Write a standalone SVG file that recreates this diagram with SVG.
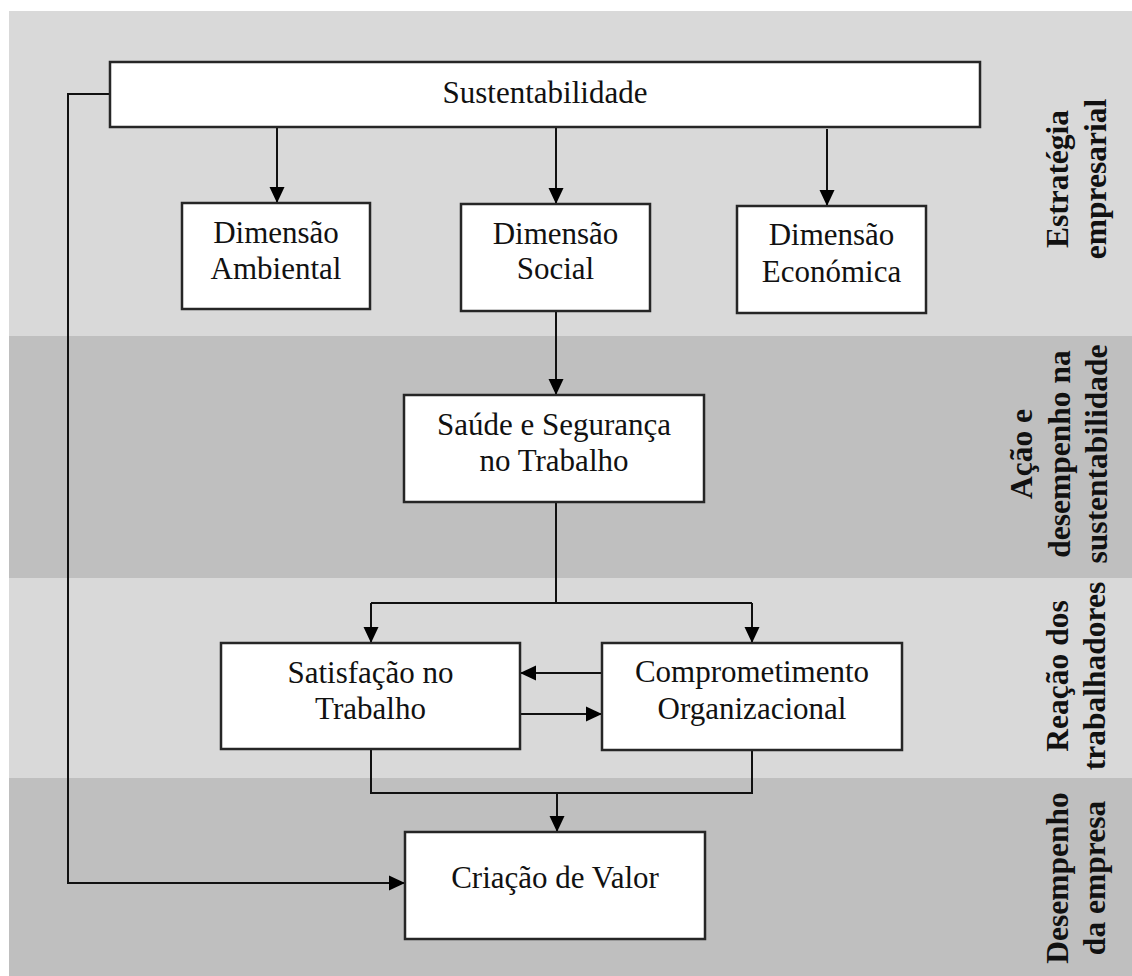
<svg xmlns="http://www.w3.org/2000/svg" width="1132" height="976" viewBox="0 0 1132 976">
  <defs>
    <marker id="arrow" markerUnits="userSpaceOnUse" markerWidth="16" markerHeight="16" refX="16" refY="8" orient="auto">
      <path d="M0,0.5 L16,8 L0,15.5 z" fill="#000"/>
    </marker>
    <style>
      .band-light { fill: #d9d9d9; }
      .band-dark { fill: #bfbfbf; }
      .box { fill: #ffffff; stroke: #262626; stroke-width: 2.5; }
      .label { font-family: "Liberation Serif", "DejaVu Serif", serif; font-size: 31px; fill: #111; text-anchor: middle; }
      .side { font-family: "Liberation Serif", "DejaVu Serif", serif; font-size: 31.5px; font-weight: bold; fill: #111; text-anchor: middle; }
      .wire { fill: none; stroke: #111; stroke-width: 2; }
      .wire-arrow { fill: none; stroke: #111; stroke-width: 2; marker-end: url(#arrow); }
    </style>
  </defs>

  <rect width="1132" height="976" fill="#ffffff"/>

  <!-- horizontal bands -->
  <g id="bands">
    <rect class="band-light" x="9" y="11" width="1123" height="325"/>
    <rect class="band-dark" x="9" y="336" width="1123" height="242"/>
    <rect class="band-light" x="9" y="578" width="1123" height="200"/>
    <rect class="band-dark" x="9" y="778" width="1123" height="198"/>
  </g>

  <!-- band titles -->
  <g id="band-labels">
    <text class="side" transform="translate(1068,179) rotate(-90)"><tspan x="0" y="0">Estratégia</tspan><tspan x="0" y="38">empresarial</tspan></text>
    <text class="side" transform="translate(1032,454) rotate(-90)"><tspan x="0" y="0">Ação e</tspan><tspan x="0" y="38">desempenho na</tspan><tspan x="0" y="75">sustentabilidade</tspan></text>
    <text class="side" transform="translate(1068,676) rotate(-90)"><tspan x="0" y="0">Reação dos</tspan><tspan x="0" y="37">trabalhadores</tspan></text>
    <text class="side" transform="translate(1068,878) rotate(-90)"><tspan x="0" y="0">Desempenho</tspan><tspan x="0" y="37">da empresa</tspan></text>
  </g>

  <!-- connectors -->
  <g id="connectors">
    <path class="wire-arrow" d="M277,127 V203"/>
    <path class="wire-arrow" d="M556,127 V204"/>
    <path class="wire-arrow" d="M827,129 V206"/>
    <path class="wire-arrow" d="M556,311 V395"/>
    <path class="wire" d="M556,502 V603 M371,603 H752"/>
    <path class="wire-arrow" d="M371,603 V643"/>
    <path class="wire-arrow" d="M752,603 V643"/>
    <path class="wire-arrow" d="M602,673 H520"/>
    <path class="wire-arrow" d="M520,714 H602"/>
    <path class="wire" d="M371,749 V793 H752 V750"/>
    <path class="wire-arrow" d="M557,793 V832"/>
    <path class="wire-arrow" d="M110,94 H68 V883 H405"/>
  </g>

  <!-- nodes -->
  <g id="sustentabilidade">
    <rect class="box" x="110" y="62" width="870" height="65"/>
    <text class="label" x="545" y="103">Sustentabilidade</text>
  </g>
  <g id="dimensao-ambiental">
    <rect class="box" x="182" y="203" width="188" height="106"/>
    <text class="label" x="276" y="243">Dimensão</text>
    <text class="label" x="276" y="279">Ambiental</text>
  </g>
  <g id="dimensao-social">
    <rect class="box" x="461" y="204" width="189" height="107"/>
    <text class="label" x="555.5" y="244">Dimensão</text>
    <text class="label" x="555.5" y="279">Social</text>
  </g>
  <g id="dimensao-economica">
    <rect class="box" x="737" y="206" width="189" height="107"/>
    <text class="label" x="831.5" y="245">Dimensão</text>
    <text class="label" x="831.5" y="282">Económica</text>
  </g>
  <g id="saude-seguranca">
    <rect class="box" x="404" y="395" width="300" height="107"/>
    <text class="label" x="554" y="435">Saúde e Segurança</text>
    <text class="label" x="554" y="471">no Trabalho</text>
  </g>
  <g id="satisfacao">
    <rect class="box" x="221" y="643" width="299" height="106"/>
    <text class="label" x="370.5" y="683">Satisfação no</text>
    <text class="label" x="370.5" y="719">Trabalho</text>
  </g>
  <g id="comprometimento">
    <rect class="box" x="602" y="643" width="300" height="107"/>
    <text class="label" x="752" y="682">Comprometimento</text>
    <text class="label" x="752" y="719">Organizacional</text>
  </g>
  <g id="criacao-valor">
    <rect class="box" x="405" y="832" width="300" height="107"/>
    <text class="label" x="555" y="888">Criação de Valor</text>
  </g>
</svg>
